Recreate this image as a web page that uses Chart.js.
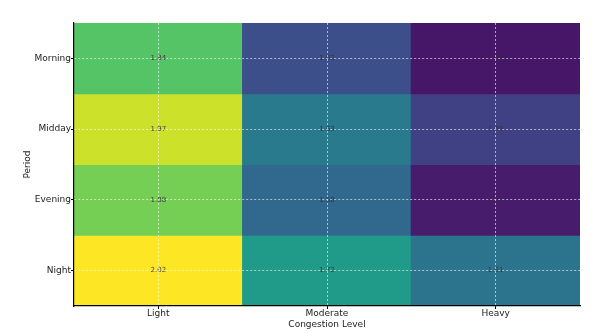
<!DOCTYPE html>
<html>
<head>
<meta charset="utf-8">
<script src="https://cdn.jsdelivr.net/npm/chart.js@4/dist/chart.umd.min.js"></script>
<style>
  html, body { margin: 0; background: #fff; }
  #wrap { width: 596px; height: 336px; }
</style>
</head>
<body>
<div id="wrap"><canvas id="heat"></canvas></div>
<script>
// Congestion heatmap data
const levels = ['Light', 'Moderate', 'Heavy'];
const periods = ['Morning', 'Midday', 'Evening', 'Night'];
const morning = [1.84, 1.52, 1.40];
const midday = [1.97, 1.63, 1.49];
const evening = [1.88, 1.58, 1.41];
const night = [2.02, 1.72, 1.61];
const rows = [morning, midday, evening, night];

// viridis colour map
const viridis = ['#440154', '#482878', '#3e4989', '#31688e', '#26828e',
                 '#1f9e89', '#35b779', '#6ece58', '#b5de2b', '#fde725'];
const colorMin = 1.36, colorMax = 2.02;

function hexRgb(h) {
    return [1, 3, 5].map(i => parseInt(h.substr(i, 2), 16));
}
function colorFor(v) {
    let t = (v - colorMin) / (colorMax - colorMin);
    t = Math.max(0, Math.min(1, t)) * (viridis.length - 1);
    const i = Math.min(Math.floor(t), viridis.length - 2);
    const f = t - i;
    const a = hexRgb(viridis[i]), b = hexRgb(viridis[i + 1]);
    const c = a.map((x, k) => Math.round(x + (b[k] - x) * f));
    return 'rgb(' + c.join(',') + ')';
}

const datasets = rows.map((vals, i) => ({
    label: periods[i],
    data: levels.map((l, j) => ({ x: l, y: [i, i + 1], v: vals[j] })),
    backgroundColor: vals.map(colorFor),
    borderWidth: 0,
    inflateAmount: 0.6,
    grouped: false,
    categoryPercentage: 1,
    barPercentage: 1
}));

// write the value in the middle of each cell
const cellLabels = {
    id: 'cellLabels',
    afterDatasetsDraw(chart) {
        const ctx = chart.ctx;
        ctx.save();
        ctx.font = '7px "DejaVu Sans"';
        ctx.fillStyle = 'rgba(50,50,50,0.9)';
        ctx.textAlign = 'center';
        ctx.textBaseline = 'middle';
        chart.data.datasets.forEach((ds, i) => {
            chart.getDatasetMeta(i).data.forEach((bar, j) => {
                ctx.fillText(ds.data[j].v.toFixed(2), bar.x, (bar.y + bar.base) / 2);
            });
        });
        ctx.restore();
    }
};

const font = { family: 'DejaVu Sans', size: 9 };
const gridOpts = {
    z: 1,
    color: 'rgba(255,255,255,0.6)',
    lineWidth: 1,
    drawTicks: true,
    tickLength: 3,
    tickColor: '#000',
    tickWidth: 1,
    tickBorderDash: []
};
const borderOpts = { display: true, color: '#000', width: 1.2, dash: [2, 2], z: 2 };

new Chart(document.getElementById('heat').getContext('2d'), {
    type: 'bar',
    data: { labels: levels, datasets: datasets },
    options: {
        responsive: true,
        maintainAspectRatio: false,
        animation: false,
        layout: { padding: { left: 0, right: 16, top: 23, bottom: 0 } },
        plugins: {
            legend: { display: false },
            tooltip: { enabled: false }
        },
        scales: {
            x: {
                type: 'category',
                grid: Object.assign({ offset: false }, gridOpts),
                border: borderOpts,
                ticks: { color: '#222', font: font, padding: -1, maxRotation: 0 },
                title: { display: true, text: 'Congestion Level', color: '#222', font: font,
                         padding: { top: 0, bottom: 6 } },
                afterFit(s) { s.height = 30; }
            },
            y: {
                type: 'linear',
                min: 0,
                max: periods.length,
                reverse: true,
                afterBuildTicks(s) {
                    s.ticks = periods.map((p, i) => ({ value: i + 0.5 }));
                },
                grid: gridOpts,
                border: borderOpts,
                ticks: {
                    color: '#222', font: font, padding: 0,
                    callback: (v, idx) => periods[idx]
                },
                title: { display: true, text: 'Period', color: '#222', font: font,
                         padding: { top: 22, bottom: 0 } },
                afterFit(s) { s.width = 74; }
            }
        }
    },
    plugins: [cellLabels]
});
</script>
</body>
</html>
